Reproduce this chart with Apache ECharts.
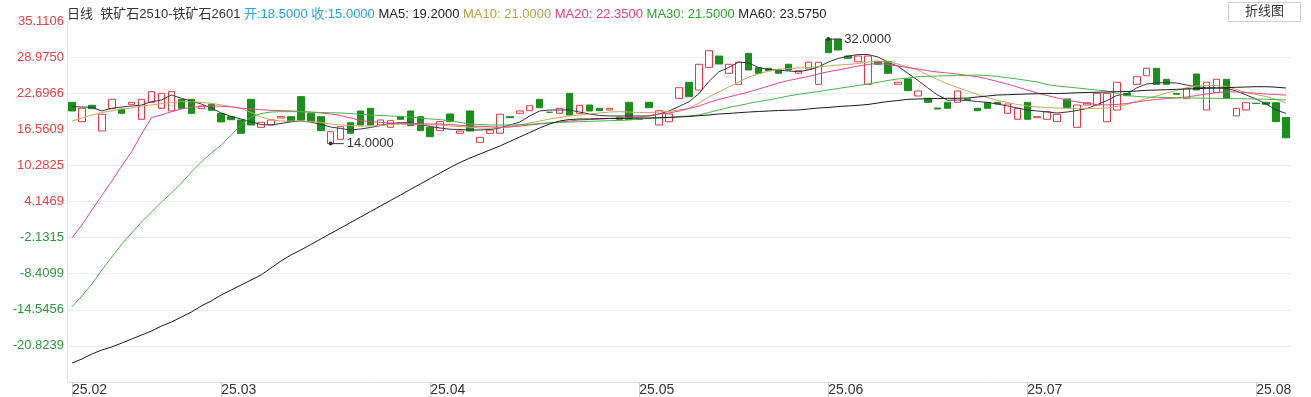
<!DOCTYPE html>
<html>
<head>
<meta charset="utf-8">
<title>日线</title>
<script src="https://cdn.jsdelivr.net/npm/echarts@6.0.0/dist/echarts.min.js"></script>
<style>
html, body { margin: 0; padding: 0; background: #fff; }
#dayK { width: 1311px; height: 397px; }
</style>
</head>
<body>
<div id="dayK"></div>
<script>
// 交易日（2025年，按月）
var febDays = [10, 11, 12, 13, 14, 17, 18, 19, 20, 21, 24, 25, 26, 27, 28];
var marDays = [3, 4, 5, 6, 7, 10, 11, 12, 13, 14, 17, 18, 19, 20, 21, 24, 25, 26, 27, 28, 31];
var aprDays = [1, 2, 3, 7, 8, 9, 10, 11, 14, 15, 16, 17, 18, 21, 22, 23, 24, 25, 28, 29, 30];
var mayDays = [6, 7, 8, 9, 12, 13, 14, 15, 16, 19, 20, 21, 22, 23, 26, 27, 28, 29, 30];
var junDays = [3, 4, 5, 6, 9, 10, 11, 12, 13, 16, 17, 18, 19, 20, 23, 24, 25, 26, 27, 30];
var julDays = [1, 2, 3, 4, 7, 8, 9, 10, 11, 14, 15, 16, 17, 18, 21, 22, 23, 24, 25, 28, 29, 30, 31];
var augDays = [1, 4, 5, 6];
var monthLabels = ['25.02', '25.03', '25.04', '25.05', '25.06', '25.07', '25.08'];

// 开盘 / 收盘（价差）
var openData = [21.11, 17.78, 20.60, 16.17, 20.01, 19.91, 20.77, 18.19, 21.11, 20.08,
	19.62, 21.63, 21.63, 20.01, 20.77, 19.22, 18.64, 18.07, 21.63, 16.81,
	17.21, 18.41, 18.64, 22.08, 19.22, 18.64, 14.00, 14.74, 17.60, 19.62,
	20.08, 17.21, 16.81, 18.64, 19.62, 18.64, 16.81, 16.22, 19.10, 15.78,
	19.62, 14.23, 15.78, 15.78, 18.64, 19.22, 19.67, 21.63, 19.40, 19.22,
	22.66, 19.22, 20.65, 20.08, 19.79, 18.53, 21.11, 18.20, 21.11, 17.21,
	17.78, 21.80, 24.56, 23.23, 27.14, 29.08, 26.11, 24.21, 29.55, 27.07,
	26.97, 26.67, 27.66, 26.11, 26.85, 24.21, 32.00, 31.95, 29.08, 28.10,
	24.21, 28.10, 28.10, 24.21, 25.13, 22.20, 21.80, 20.13, 21.11, 21.11,
	21.68, 20.08, 21.11, 21.11, 19.22, 18.19, 21.11, 18.46, 18.19, 17.78,
	21.68, 16.81, 20.65, 20.65, 17.78, 19.79, 22.66, 24.21, 25.69, 26.97,
	25.07, 22.66, 21.80, 25.99, 19.79, 22.77, 25.07, 18.76, 19.79, 20.95,
	21.11, 21.04, 18.50];
var closeData = [19.62, 20.08, 20.01, 19.05, 21.63, 19.22, 21.11, 21.63, 22.94, 22.66,
	22.94, 20.08, 19.22, 20.48, 19.74, 17.73, 18.12, 15.78, 17.21, 17.67,
	18.07, 18.64, 17.78, 18.07, 17.78, 16.22, 16.05, 16.91, 15.78, 17.21,
	17.21, 18.07, 17.95, 18.19, 17.09, 16.22, 15.19, 17.78, 17.78, 16.17,
	16.17, 15.09, 16.35, 19.05, 18.46, 19.62, 20.53, 20.18, 19.40, 20.08,
	18.93, 20.60, 19.62, 19.67, 20.08, 18.19, 18.19, 18.20, 20.18, 19.67,
	19.10, 23.63, 22.08, 27.66, 30.00, 27.71, 27.66, 28.00, 26.67, 26.11,
	26.55, 26.11, 26.67, 26.55, 28.00, 28.00, 29.65, 30.12, 28.69, 29.08,
	29.08, 27.66, 26.11, 24.56, 23.11, 23.06, 21.11, 19.96, 20.08, 23.06,
	21.56, 19.67, 20.08, 20.82, 20.82, 20.08, 18.19, 18.64, 19.50, 19.05,
	20.18, 20.65, 21.04, 22.66, 22.66, 24.56, 22.25, 25.52, 26.97, 24.21,
	24.21, 22.49, 23.52, 23.23, 24.56, 25.07, 21.80, 20.08, 21.04, 20.90,
	20.77, 17.78, 15.00];

// 均线
var ma5 = [20.36, 20.31, 20.25, 19.62, 20.08, 20.31, 20.48, 20.65, 21.22, 21.51,
	22.37, 21.80, 21.34, 20.82, 20.13, 19.27, 18.67, 18.24, 17.77, 17.29,
	17.21, 17.46, 17.77, 17.89, 17.72, 17.29, 16.86, 16.60, 16.35, 16.52,
	16.78, 17.12, 17.46, 17.60, 17.60, 17.29, 16.95, 16.69, 16.47, 16.43,
	16.35, 16.35, 16.43, 16.69, 17.21, 17.72, 18.76, 19.62, 19.79, 19.79,
	19.79, 19.44, 19.10, 18.84, 18.76, 18.76, 18.76, 18.76, 18.76, 19.10,
	19.62, 20.40, 21.20, 22.60, 24.70, 26.35, 27.10, 28.05, 27.88, 27.10,
	26.76, 26.67, 26.50, 26.38, 26.67, 27.19, 28.05, 28.65, 29.08, 29.34,
	29.34, 28.91, 28.05, 27.30, 26.10, 24.90, 23.59, 22.36, 21.46, 21.51,
	21.42, 21.25, 21.08, 20.82, 20.48, 20.13, 19.79, 19.62, 19.44, 19.27,
	19.44, 19.70, 20.05, 20.70, 21.40, 22.30, 22.54, 23.60, 24.26, 24.44,
	24.49, 24.44, 24.09, 23.75, 23.63, 23.58, 23.52, 23.06, 22.37, 21.68,
	20.82, 19.79, 19.20];
var ma10 = [17.89, 18.41, 18.93, 19.36, 19.62, 19.96, 20.13, 20.48, 20.65, 20.91,
	21.08, 21.22, 21.22, 21.11, 20.94, 20.65, 20.39, 20.05, 19.36, 18.58,
	18.15, 17.89, 17.89, 17.89, 17.81, 17.64, 17.38, 17.21, 17.12, 17.03,
	17.03, 17.12, 17.29, 17.38, 17.38, 17.29, 17.21, 17.21, 17.03, 16.95,
	16.81, 16.69, 16.64, 16.78, 16.91, 17.21, 17.55, 17.89, 18.24, 18.50,
	18.76, 18.93, 19.10, 19.27, 19.44, 19.50, 19.44, 19.36, 19.36, 19.44,
	19.53, 19.79, 20.05, 21.00, 22.03, 22.89, 23.75, 24.61, 25.47, 25.99,
	26.50, 26.80, 26.93, 27.02, 27.10, 27.24, 27.36, 27.53, 27.62, 27.79,
	28.05, 28.22, 28.05, 27.71, 27.19, 26.67, 25.81, 25.04, 24.26, 23.66,
	23.06, 22.46, 21.94, 21.42, 21.08, 20.74, 20.48, 20.31, 20.22, 20.13,
	20.08, 20.08, 20.08, 20.08, 20.13, 20.39, 20.74, 21.25, 21.77, 22.20,
	22.71, 23.14, 23.58, 23.92, 24.01, 24.01, 23.83, 23.32, 22.80, 22.46,
	22.11, 21.60, 21.00];
var ma20 = [-2.25, -0.01, 2.57, 5.07, 7.56, 10.15, 12.64, 15.66, 18.50, 18.93,
	19.50, 19.96, 20.25, 20.39, 20.48, 20.43, 20.31, 20.08, 19.96, 19.84,
	19.74, 19.67, 19.62, 19.53, 19.39, 19.27, 19.10, 18.84, 18.41, 17.98,
	17.77, 17.67, 17.55, 17.43, 17.38, 17.38, 17.38, 17.38, 17.29, 17.16,
	17.03, 16.98, 16.91, 16.81, 16.86, 17.03, 17.21, 17.38, 17.55, 17.72,
	17.89, 18.07, 18.15, 18.24, 18.33, 18.41, 18.50, 18.58, 18.84, 19.10,
	19.27, 19.62, 20.05, 20.48, 21.08, 21.60, 22.03, 22.46, 22.89, 23.40,
	23.92, 24.44, 24.87, 25.21, 25.56, 25.99, 26.38, 26.67, 27.02, 27.36,
	27.62, 27.83, 27.62, 27.36, 27.10, 26.85, 26.55, 26.33, 26.16, 25.99,
	25.73, 25.52, 25.13, 24.70, 24.26, 23.75, 23.23, 22.72, 22.28, 21.85,
	21.51, 21.17, 20.91, 20.74, 20.65, 20.74, 20.91, 21.17, 21.42, 21.60,
	21.77, 21.85, 22.03, 22.28, 22.54, 22.80, 22.94, 22.89, 22.80, 22.66,
	22.54, 22.46, 22.35];
var ma30 = [-14.08, -12.23, -10.17, -7.76, -5.52, -3.28, -1.39, 0.51, 2.23, 3.95,
	5.50, 7.22, 9.12, 10.84, 12.39, 13.76, 15.48, 17.21, 18.58, 19.19,
	19.44, 19.50, 19.50, 19.50, 19.44, 19.36, 19.32, 19.27, 19.19, 19.01,
	18.93, 18.84, 18.76, 18.67, 18.58, 18.41, 18.24, 18.15, 17.89, 17.64,
	17.38, 17.29, 17.21, 17.21, 17.21, 17.26, 17.33, 17.46, 17.60, 17.64,
	17.72, 17.77, 17.84, 17.89, 17.95, 17.98, 18.07, 18.24, 18.33, 18.41,
	18.53, 18.67, 18.76, 18.93, 19.36, 19.79, 20.22, 20.56, 20.91, 21.25,
	21.51, 21.85, 22.20, 22.49, 22.72, 22.97, 23.23, 23.49, 23.75, 24.01,
	24.26, 24.56, 24.87, 25.13, 25.30, 25.52, 25.59, 25.64, 25.69, 25.73,
	25.76, 25.81, 25.73, 25.56, 25.35, 25.13, 24.87, 24.61, 24.18, 23.92,
	23.75, 23.58, 23.40, 23.23, 23.06, 22.63, 22.28, 22.11, 22.03, 21.98,
	21.94, 21.91, 21.85, 21.85, 21.82, 21.80, 21.77, 21.73, 21.72, 21.68,
	21.63, 21.58, 21.50];
var ma60 = [-23.77, -23.08, -22.22, -21.53, -21.01, -20.33, -19.64, -18.95, -18.26, -17.40,
	-16.71, -15.85, -14.99, -13.95, -13.09, -12.06, -11.20, -10.34, -9.48, -8.62,
	-7.41, -6.21, -5.17, -4.31, -3.37, -2.42, -1.47, -0.53, 0.42, 1.37,
	2.31, 3.26, 4.21, 5.15, 6.10, 7.05, 8.00, 8.94, 9.89, 10.75,
	11.53, 12.21, 12.90, 13.59, 14.37, 15.14, 15.92, 16.69, 17.38, 17.89,
	18.15, 18.24, 18.24, 18.29, 18.33, 18.33, 18.36, 18.41, 18.41, 18.46,
	18.50, 18.58, 18.67, 18.81, 18.93, 19.10, 19.19, 19.32, 19.44, 19.53,
	19.62, 19.70, 19.75, 19.79, 19.96, 20.13, 20.22, 20.39, 20.48, 20.60,
	20.74, 21.00, 21.25, 21.42, 21.63, 21.68, 21.73, 21.77, 21.80, 21.80,
	21.85, 22.03, 22.20, 22.37, 22.42, 22.49, 22.54, 22.59, 22.66, 22.62,
	22.68, 22.75, 22.80, 22.85, 22.89, 22.94, 22.97, 23.06, 23.18, 23.23,
	23.28, 23.35, 23.40, 23.46, 23.52, 23.58, 23.63, 23.70, 23.75, 23.80,
	23.80, 23.72, 23.575];

// 纵轴刻度文字（自下而上）
var yLabels = ['', '-20.8239', '-14.5456', '-8.4099', '-2.1315', '4.1469', '10.2825', '16.5609', '22.6966', '28.9750', '35.1106'];
var yTop = 35.1106;
var yStep = 6.2149;

function dayK() {
	var myChart = echarts.init(document.getElementById('dayK'));

	// 日期与月份标签
	var months = [['02', febDays], ['03', marDays], ['04', aprDays], ['05', mayDays], ['06', junDays], ['07', julDays], ['08', augDays]];
	var dates = [];
	var monthStart = {};
	months.forEach(function (m, mi) {
		m[1].forEach(function (d, di) {
			var s = '2025-' + m[0] + '-' + (d < 10 ? '0' + d : d);
			if (di === 0) monthStart[dates.length] = monthLabels[mi];
			dates.push(s);
		});
	});

	var kData = openData.map(function (o, i) {
		var c = closeData[i];
		return [o, c, Math.min(o, c), Math.max(o, c)];
	});

	var last = openData.length - 1;
	var fmt = function (v) { return v.toFixed(4); };
	var head = '{t|日线}  {t|铁矿石2510-铁矿石2601} {oc|开:' + fmt(openData[last]) + '} {oc|收:' + fmt(closeData[last]) + '} ' +
		'{m5|MA5: ' + fmt(ma5[last]) + '} {m10|MA10: ' + fmt(ma10[last]) + '} {m20|MA20: ' + fmt(ma20[last]) + '} ' +
		'{m30|MA30: ' + fmt(ma30[last]) + '} {m60|MA60: ' + fmt(ma60[last]) + '}';

	var font = 'Arial, "Noto Sans CJK SC", sans-serif';
	var isStart = function (i) { return monthStart[i] !== undefined; };

	function maLine(name, data, color) {
		return {
			name: name,
			type: 'line',
			data: data,
			symbol: 'none',
			silent: true,
			lineStyle: { width: 1, color: color }
		};
	}

	option = {
		animation: false,
		backgroundColor: '#fff',
		title: {
			left: 62,
			top: 3,
			text: head,
			textStyle: {
				fontSize: 13,
				fontWeight: 'normal',
				fontFamily: font,
				rich: {
					t: { fontSize: 13, color: '#333', fontFamily: font },
					oc: { fontSize: 13, color: '#22a3e6', fontFamily: font },
					m5: { fontSize: 13, color: '#222', fontFamily: font },
					m10: { fontSize: 13, color: '#bf9e3f', fontFamily: font },
					m20: { fontSize: 13, color: '#e8407c', fontFamily: font },
					m30: { fontSize: 13, color: '#2aa52a', fontFamily: font },
					m60: { fontSize: 13, color: '#222', fontFamily: font }
				}
			}
		},
		graphic: [{
			type: 'rect',
			left: 1228,
			top: 2,
			shape: { width: 72, height: 19 },
			style: { fill: '#fff', stroke: '#d0d0d0', lineWidth: 1 }
		}, {
			type: 'text',
			left: 1245,
			top: 4,
			style: { text: '折线图', font: '13px "Noto Sans CJK SC"', fill: '#333' }
		}],
		grid: {
			left: 67,
			right: 20,
			top: 21,
			bottom: 15,
			outerBoundsMode: 'none'
		},
		xAxis: {
			type: 'category',
			data: dates,
			boundaryGap: true,
			axisLine: { onZero: false, lineStyle: { color: '#dde0ea' } },
			axisTick: {
				show: true,
				alignWithLabel: true,
				interval: function (i) { return isStart(i); },
				length: 15,
				lineStyle: { color: '#c9cdd8' }
			},
			axisLabel: {
				interval: function (i) { return isStart(i); },
				formatter: function (v, i) { return monthStart[i] || ''; },
				align: 'left',
				margin: 1,
				color: '#333',
				fontSize: 14,
				fontFamily: font
			},
			splitLine: { show: false }
		},
		yAxis: [{
			type: 'value',
			show: false,
			min: yTop - 10 * yStep,
			max: yTop
		}, {
			type: 'value',
			position: 'left',
			min: 0,
			max: 10,
			interval: 1,
			axisLine: { show: true, lineStyle: { color: '#e0e3ea' } },
			axisTick: { show: false },
			axisLabel: {
				margin: 3,
				fontSize: 13,
				fontFamily: font,
				formatter: function (v) { return yLabels[Math.round(v)]; },
				color: function (v) { return Number(v) >= 5 ? '#f03c3c' : '#2a9a3a'; }
			},
			splitLine: { show: true, showMaxLine: false, lineStyle: { color: '#eaecf2' } }
		}],
		series: [{
			name: '日线',
			type: 'candlestick',
			yAxisIndex: 0,
			data: kData,
			barWidth: 7,
			itemStyle: {
				color: '#fff',
				color0: '#1b8f1b',
				borderColor: '#e8383d',
				borderColor0: '#1b8f1b',
				borderColorDoji: '#1b8f1b',
				borderWidth: 1
			},
			markPoint: {
				symbol: 'circle',
				symbolSize: 4,
				itemStyle: { color: '#333' },
				label: {
					show: true,
					position: 'right',
					distance: 0,
					formatter: function (p) { return '{l|}{v|' + Number(p.value).toFixed(4) + '}'; },
					rich: {
						l: { width: 11, height: 1, backgroundColor: '#333' },
						v: { fontSize: 13, color: '#333', fontFamily: font, padding: [0, 0, 0, 3] }
					}
				},
				data: [
					{ type: 'max', valueDim: 'highest' },
					{ type: 'min', valueDim: 'lowest' }
				]
			}
		},
			maLine('MA5', ma5, '#34344a'),
			maLine('MA10', ma10, '#c6a85a'),
			maLine('MA20', ma20, '#e8468a'),
			maLine('MA30', ma30, '#45b745'),
			maLine('MA60', ma60, '#1a1a1a')
		]
	};
	myChart.setOption(option);
}

dayK();
</script>
</body>
</html>
